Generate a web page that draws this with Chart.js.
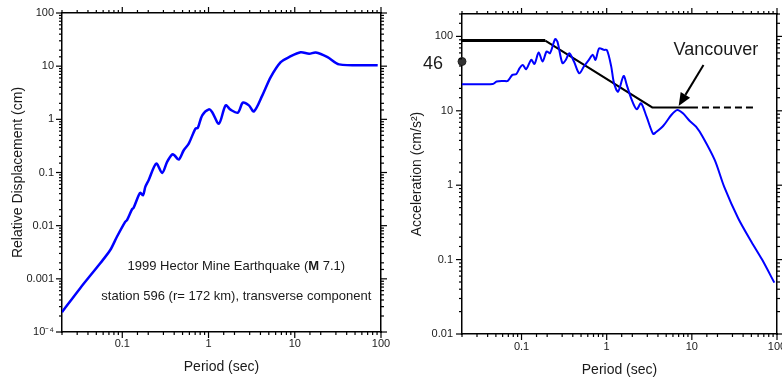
<!DOCTYPE html>
<html>
<head>
<meta charset="utf-8">
<script src="https://cdn.jsdelivr.net/npm/chart.js@4.4.1/dist/chart.umd.min.js"></script>
<style>
  html, body { margin: 0; padding: 0; background: #fff; }
  #wrap { position: relative; width: 782px; height: 381px; overflow: hidden; }
  #dispChart { position: absolute; left: 0; top: 0; }
  #accChart { position: absolute; left: 390px; top: 0; }
</style>
</head>
<body>
<div id="wrap">
  <canvas id="dispChart" width="390" height="381"></canvas>
  <canvas id="accChart" width="392" height="381"></canvas>
</div>
<script>
/* Hector Mine 1999, station 596 — displacement & acceleration spectra */

// ── Data ─────────────────────────────────────────────────────────
const dispPeriod = [0.02, 0.0325, 0.0555, 0.0725, 0.0867, 0.108, 0.1135, 0.13, 0.135, 0.155, 0.162, 0.174,
  0.185, 0.202, 0.248, 0.29, 0.331, 0.378, 0.402, 0.452, 0.516, 0.59, 0.706, 0.751, 0.845, 1.01, 1.1,
  1.32, 1.58, 1.8, 2.19, 2.5, 2.94, 3.36, 4.21, 5.26, 6.87, 8.59, 11.7, 14.7, 17.5, 24.0, 32.7, 91.6];
const dispValue = [2.36e-4, 6.67e-4, 1.96e-3, 3.48e-3, 6.19e-3, 0.0118, 0.0127, 0.0205, 0.0215, 0.0375, 0.0414, 0.0375,
  0.0537, 0.0717, 0.1475, 0.098, 0.158, 0.218, 0.211, 0.175, 0.262, 0.35, 0.669, 0.687, 1.19, 1.54, 1.37,
  0.83, 1.83, 1.52, 1.34, 2.06, 1.83, 1.41, 2.82, 6.22, 11.9, 14.8, 18.3, 17.1, 18.1, 14.8, 10.8, 10.4];

const accPeriod = [0.02, 0.046, 0.051, 0.061, 0.069, 0.078, 0.087, 0.095, 0.1035, 0.1135, 0.13, 0.142, 0.159,
  0.177, 0.197, 0.216, 0.248, 0.264, 0.302, 0.331, 0.364, 0.413, 0.476, 0.54, 0.618, 0.687, 0.739, 0.815,
  0.923, 1.01, 1.13, 1.22, 1.36, 1.58, 1.72, 1.94, 2.25, 2.53, 2.94, 3.5, 3.75, 4.6, 5.74, 6.75, 7.86, 9.39,
  11.2, 13.4, 18.6, 24.0, 35.0, 50.0, 66.8, 93];
const accValue = [22.8, 23.0, 24.7, 25.2, 25.2, 30.4, 31.3, 37.4, 41.4, 36.3, 48.4, 42.7, 60.7,
  45.9, 62.6, 59.6, 92, 85, 43.7, 48.4, 59.3, 45.9, 31.9, 39.4, 48.4, 56.5, 48.4, 69.2,
  66, 65, 39.5, 23.4, 18.1, 29.4, 22.3, 14.7, 10.5, 12.6, 8.33, 4.9, 5.1, 6.24, 8.78, 10.25, 9.25, 7.36,
  6.11, 4.48, 2.17, 0.949, 0.36, 0.174, 0.1, 0.049];

// Vancouver design spectrum (last leg is dashed)
const designPeriod = [0.02, 0.19, 3.43, 11.8, 57.5];
const designValue = [88, 88, 11.1, 11.1, 11.1];
const pgaPeriod = [0.02];
const pgaValue = [46];

// ── Tick labels ──────────────────────────────────────────────────
const periodTicks = [0.1, 1, 10, 100];
const periodLabels = ['0.1', '1', '10', '100'];
const dispTicks = [1e-4, 0.001, 0.01, 0.1, 1, 10, 100];
const dispLabels = ['10\u207B\u2074', '0.001', '0.01', '0.1', '1', '10', '100'];
const accTicks = [0.01, 0.1, 1, 10, 100];
const accLabels = ['0.01', '0.1', '1', '10', '100'];

// ── Annotation text + anchors (data coords) ──────────────────────
const quakeTitle = ['1999 Hector Mine Earthquake (', 'M', ' 7.1)'];
const quakeNote = 'station 596 (r= 172 km), transverse component';
const noteAt = { x: 2.1, y1: 1.7e-3, y2: 4.6e-4 };
const vancouverAt = { x: 6.1, y: 65.6 };
const arrowFrom = { x: 13.7, y: 41.2 };
const arrowTo = { x: 7.0, y: 11.6 };

const FONT = "'Liberation Sans', Arial, Helvetica, sans-serif";
const INK = '#1a1a1a';
const BLUE = '#0000ff';

// ── Helpers ──────────────────────────────────────────────────────
const toPts = (xs, ys) => xs.map((x, i) => ({ x, y: ys[i] }));
const isDecade = v => Math.abs(Math.log10(v) - Math.round(Math.log10(v))) < 1e-6;

function labeller(values, labels) {
  return v => {
    const i = values.findIndex(t => Math.abs(t - v) / t < 1e-6);
    return i < 0 ? '' : labels[i];
  };
}

// pin an axis box to a fixed size so the plot area sits where the figure has it
function fixSize(size) {
  return scale => {
    if (scale.isHorizontal()) scale.height = size; else scale.width = size;
    scale.paddingLeft = scale.paddingRight = scale.paddingTop = scale.paddingBottom = 0;
  };
}

function logAxis(o) {
  return {
    type: 'logarithmic',
    position: o.position,
    min: o.min, max: o.max,
    afterFit: fixSize(o.size),
    grid: { display: false, drawTicks: false },
    border: { display: true, color: '#000', width: 1.5 },
    ticks: {
      display: !!o.labels,
      autoSkip: false, maxRotation: 0,
      padding: o.pad || 6,
      color: INK,
      font: { family: FONT, size: 11 },
      callback: o.labels ? labeller(o.values, o.labels) : () => ''
    },
    title: o.title ? {
      display: true, text: o.title, color: INK,
      font: { family: FONT, size: 14 },
      padding: o.titlePad
    } : { display: false }
  };
}

// outward tick marks, long at decades, short in between
const tickMarks = {
  id: 'tickMarks',
  afterDraw(chart) {
    const { ctx } = chart;
    ctx.save();
    ctx.strokeStyle = '#000';
    ctx.lineWidth = 1.2;
    Object.values(chart.scales).forEach(scale => {
      const pos = scale.position;
      const edge = { left: scale.right, right: scale.left, top: scale.bottom, bottom: scale.top }[pos];
      const dir = (pos === 'left' || pos === 'top') ? -1 : 1;
      scale.ticks.forEach(t => {
        const p = scale.getPixelForValue(t.value);
        const len = isDecade(t.value) ? 6 : 3;
        ctx.beginPath();
        if (scale.isHorizontal()) { ctx.moveTo(p, edge); ctx.lineTo(p, edge + dir * len); }
        else { ctx.moveTo(edge, p); ctx.lineTo(edge + dir * len, p); }
        ctx.stroke();
      });
    });
    ctx.restore();
  }
};

// ── Left: relative displacement ──────────────────────────────────
const quakeNotes = {
  id: 'quakeNotes',
  afterDatasetsDraw(chart) {
    const { ctx, scales: { x, y } } = chart;
    const cx = x.getPixelForValue(noteAt.x);
    const normal = `13px ${FONT}`, bold = `bold 13px ${FONT}`;
    const fonts = [normal, bold, normal];
    ctx.save();
    ctx.fillStyle = INK;
    ctx.textBaseline = 'middle';
    const widths = quakeTitle.map((s, i) => { ctx.font = fonts[i]; return ctx.measureText(s).width; });
    let px = cx - widths.reduce((a, b) => a + b, 0) / 2;
    const py = y.getPixelForValue(noteAt.y1);
    ctx.textAlign = 'left';
    quakeTitle.forEach((s, i) => { ctx.font = fonts[i]; ctx.fillText(s, px, py); px += widths[i]; });
    ctx.font = normal;
    ctx.textAlign = 'center';
    ctx.fillText(quakeNote, cx, y.getPixelForValue(noteAt.y2));
    ctx.restore();
  }
};

new Chart(document.getElementById('dispChart'), {
  type: 'line',
  data: {
    datasets: [{
      data: toPts(dispPeriod, dispValue),
      borderColor: BLUE, borderWidth: 2.5,
      pointRadius: 0, tension: 0.3
    }]
  },
  options: {
    responsive: false, animation: false, devicePixelRatio: 1,
    layout: { padding: 0 },
    plugins: { legend: { display: false }, tooltip: { enabled: false } },
    scales: {
      x: logAxis({ position: 'bottom', min: 0.02, max: 100, size: 49, pad: 5.5,
        values: periodTicks, labels: periodLabels, title: 'Period (sec)', titlePad: { top: 0, bottom: 5.6 } }),
      x2: logAxis({ position: 'top', min: 0.02, max: 100, size: 13 }),
      y: logAxis({ position: 'left', min: 1e-4, max: 100, size: 62, pad: 8,
        values: dispTicks, labels: dispLabels, title: 'Relative Displacement (cm)', titlePad: { top: 9.6, bottom: 0 } }),
      y2: logAxis({ position: 'right', min: 1e-4, max: 100, size: 9 })
    }
  },
  plugins: [tickMarks, quakeNotes]
});

// ── Right: acceleration vs Vancouver spectrum ────────────────────
const vancouverNotes = {
  id: 'vancouverNotes',
  afterDatasetsDraw(chart) {
    const { ctx, scales: { x, y }, chartArea } = chart;
    ctx.save();
    ctx.fillStyle = INK;
    ctx.font = `18px ${FONT}`;
    ctx.textBaseline = 'middle';
    ctx.textAlign = 'left';
    ctx.fillText('Vancouver', x.getPixelForValue(vancouverAt.x), y.getPixelForValue(vancouverAt.y));
    // PGA value next to the marker
    ctx.textAlign = 'right';
    ctx.fillText(String(pgaValue[0]), chartArea.left - 19, y.getPixelForValue(pgaValue[0]) + 3);

    // arrow
    const x0 = x.getPixelForValue(arrowFrom.x), y0 = y.getPixelForValue(arrowFrom.y);
    const x1 = x.getPixelForValue(arrowTo.x), y1 = y.getPixelForValue(arrowTo.y);
    const a = Math.atan2(y1 - y0, x1 - x0);
    const head = 13, half = 5.5;
    const bx = x1 - head * Math.cos(a), by = y1 - head * Math.sin(a);
    ctx.strokeStyle = '#000';
    ctx.lineWidth = 2;
    ctx.beginPath();
    ctx.moveTo(x0, y0);
    ctx.lineTo(bx, by);
    ctx.stroke();
    ctx.fillStyle = '#000';
    ctx.beginPath();
    ctx.moveTo(x1, y1);
    ctx.lineTo(bx + half * Math.sin(a), by - half * Math.cos(a));
    ctx.lineTo(bx - half * Math.sin(a), by + half * Math.cos(a));
    ctx.closePath();
    ctx.fill();
    ctx.restore();
  }
};

new Chart(document.getElementById('accChart'), {
  type: 'line',
  data: {
    datasets: [
      {
        data: toPts(accPeriod, accValue),
        borderColor: BLUE, borderWidth: 2,
        pointRadius: 0, tension: 0.3
      },
      {
        data: toPts(designPeriod, designValue),
        borderColor: '#000', borderWidth: 2, pointRadius: 0,
        segment: {
          borderWidth: c => c.p0DataIndex === 0 ? 3 : 2,
          borderDash: c => c.p0DataIndex === 3 ? [7, 4] : undefined,
          borderDashOffset: c => c.p0DataIndex === 3 ? 7 : 0
        }
      },
      {
        data: toPts(pgaPeriod, pgaValue),
        showLine: false, clip: false,
        pointRadius: 4, pointBackgroundColor: '#333', pointBorderColor: '#222', pointBorderWidth: 1
      }
    ]
  },
  options: {
    responsive: false, animation: false, devicePixelRatio: 1,
    layout: { padding: 0 },
    plugins: { legend: { display: false }, tooltip: { enabled: false } },
    scales: {
      x: logAxis({ position: 'bottom', min: 0.02, max: 100, size: 47, pad: 6,
        values: periodTicks, labels: periodLabels, title: 'Period (sec)', titlePad: { top: 0, bottom: 2.6 } }),
      x2: logAxis({ position: 'top', min: 0.02, max: 100, size: 14 }),
      y: logAxis({ position: 'left', min: 0.01, max: 200, size: 72, pad: 9,
        values: accTicks, labels: accLabels, title: 'Acceleration (cm/s\u00B2)', titlePad: { top: 18.6, bottom: 0 } }),
      y2: logAxis({ position: 'right', min: 0.01, max: 200, size: 3 })
    }
  },
  plugins: [tickMarks, vancouverNotes]
});
</script>
</body>
</html>
